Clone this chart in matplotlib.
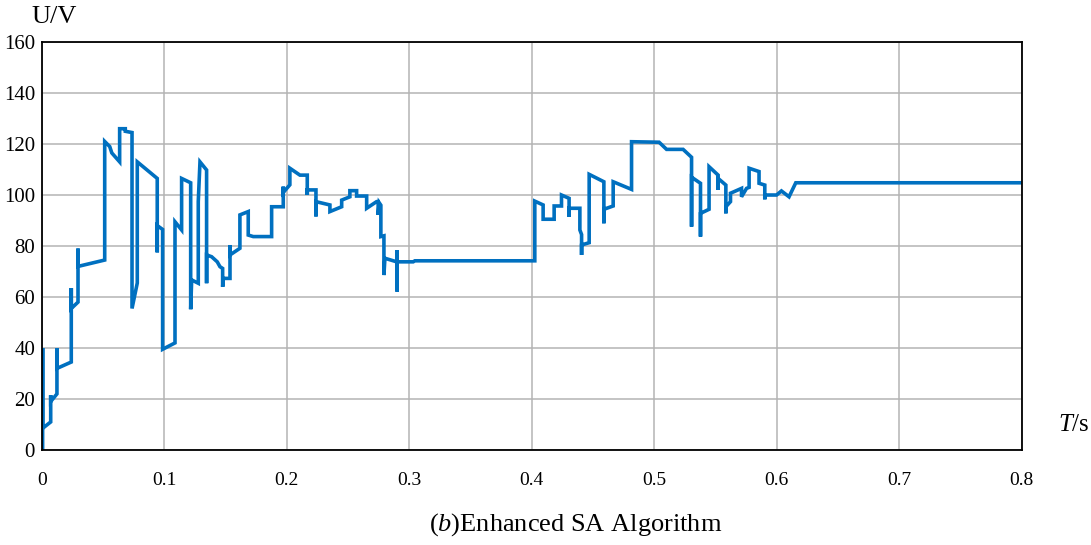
import numpy as np
import matplotlib
matplotlib.use("Agg")
import matplotlib.pyplot as plt

# Output voltage trace (time in s, voltage in V)
t = [0.0005, 0.0005, 0.0005, 0.0071, 0.0071, 0.0071, 0.0122, 0.0122, 0.0122,
     0.0239, 0.0239, 0.0239, 0.0294, 0.0294, 0.0294, 0.0512, 0.0512, 0.0553,
     0.0570, 0.0634, 0.0634, 0.0680, 0.0680, 0.0735, 0.0735, 0.0778, 0.0778,
     0.0941, 0.0941, 0.0941, 0.0985, 0.0985, 0.1086, 0.1086, 0.1140, 0.1140,
     0.1214, 0.1214, 0.1222, 0.1276, 0.1276, 0.1290, 0.1344, 0.1344, 0.1344,
     0.1385, 0.1431, 0.1453, 0.1475, 0.1475, 0.1480, 0.1535, 0.1535, 0.1535,
     0.1616, 0.1616, 0.1684, 0.1684, 0.1725, 0.1875, 0.1875, 0.1970, 0.1970,
     0.1970, 0.2024, 0.2024, 0.2106, 0.2166, 0.2166, 0.2166, 0.2237, 0.2237,
     0.2237, 0.2351, 0.2351, 0.2447, 0.2447, 0.2514, 0.2514, 0.2569, 0.2569,
     0.2651, 0.2651, 0.2732, 0.2745, 0.2745, 0.2753, 0.2767, 0.2767, 0.2792,
     0.2792, 0.2800, 0.2896, 0.2900, 0.2900, 0.2900, 0.3031, 0.3045, 0.4024,
     0.4024, 0.4092, 0.4092, 0.4182, 0.4182, 0.4242, 0.4242, 0.4304, 0.4304,
     0.4304, 0.4392, 0.4392, 0.4406, 0.4406, 0.4406, 0.4468, 0.4468, 0.4588,
     0.4588, 0.4588, 0.4664, 0.4664, 0.4814, 0.4814, 0.5039, 0.5100, 0.5235,
     0.5304, 0.5304, 0.5304, 0.5377, 0.5377, 0.5377, 0.5447, 0.5447, 0.5521,
     0.5521, 0.5521, 0.5584, 0.5584, 0.5584, 0.5622, 0.5622, 0.5712, 0.5712,
     0.5753, 0.5774, 0.5774, 0.5855, 0.5855, 0.5902, 0.5902, 0.5902, 0.5998,
     0.6038, 0.6100, 0.6155, 0.8000]
u = [0.5, 40.0, 8.5, 11.0, 21.5, 19.0, 22.0, 40.0, 32.0,
     34.5, 63.5, 55.5, 58.0, 79.0, 72.0, 74.5, 121.0, 119.0,
     116.5, 113.0, 126.0, 126.0, 125.0, 124.5, 55.5, 65.5, 113.0,
     106.5, 77.5, 88.0, 86.5, 39.5, 42.0, 89.5, 86.3, 106.5,
     104.8, 55.2, 66.7, 65.4, 97.4, 113.0, 109.8, 65.4, 76.5,
     75.8, 73.8, 71.9, 71.2, 64.0, 67.3, 67.3, 80.4, 76.5,
     79.1, 92.2, 93.5, 84.3, 83.7, 83.7, 95.4, 95.4, 103.3,
     101.0, 104.0, 110.5, 107.8, 107.8, 100.0, 102.0, 102.0, 91.6,
     97.4, 96.1, 93.5, 95.4, 98.0, 99.3, 101.7, 101.7, 99.6,
     99.6, 94.8, 97.4, 97.4, 92.2, 97.0, 96.0, 83.7, 84.0,
     68.6, 75.2, 73.8, 78.4, 62.1, 73.8, 73.8, 74.2, 74.2,
     97.6, 96.1, 90.5, 90.5, 95.7, 95.7, 100.0, 98.7, 91.5,
     94.8, 94.8, 86.3, 84.5, 76.5, 80.4, 81.3, 108.1, 105.2,
     88.9, 94.4, 95.7, 105.2, 102.2, 120.9, 120.7, 117.9, 117.9,
     114.8, 87.6, 107.0, 104.6, 83.7, 92.8, 94.4, 111.1, 107.8,
     102.0, 106.5, 103.9, 92.8, 95.4, 97.4, 100.7, 102.6, 99.3,
     102.6, 103.0, 110.5, 109.2, 104.6, 103.9, 98.3, 100.0, 100.0,
     101.6, 99.3, 104.8, 104.8]

x_ticks = [0, 0.1, 0.2, 0.3, 0.4, 0.5, 0.6, 0.7, 0.8]
y_ticks = [0, 20, 40, 60, 80, 100, 120, 140, 160]

plt.rcParams['font.family'] = ['Liberation Serif', 'DejaVu Serif']
plt.rcParams['mathtext.fontset'] = 'custom'
plt.rcParams['mathtext.rm'] = 'Liberation Serif'
plt.rcParams['mathtext.it'] = 'Liberation Serif:italic'

fig = plt.figure(figsize=(10.91, 5.45), dpi=100)
ax = fig.add_axes([0.0385, 0.1743, 0.898, 0.7486])

ax.plot(t, u, color='#0070C0', linewidth=2.6, solid_joinstyle='miter')

ax.set_xlim(0, 0.8)
ax.set_ylim(0, 160)
ax.set_xticks(x_ticks)
ax.set_xticklabels([f'{v:g}' for v in x_ticks])
ax.set_yticks(y_ticks)
ax.tick_params(axis='x', length=0, pad=16, labelsize=14)
ax.tick_params(axis='y', length=0, pad=5, labelsize=15)
ax.grid(True, color='#b4b4b4', linewidth=1.1)
ax.set_axisbelow(True)
for side in ax.spines.values():
    side.set_color('black')
    side.set_linewidth(1.3)

fig.text(0.050, 0.969, 'U/V', fontsize=19, ha='center', va='center')
fig.text(0.999, 0.22, r'$T$/s', fontsize=18, ha='right', va='center')
fig.text(0.528, 0.037, r'($b$)Enhanced SA Algorithm', fontsize=19,
         ha='center', va='center')

fig.savefig('out.png', dpi=100)
